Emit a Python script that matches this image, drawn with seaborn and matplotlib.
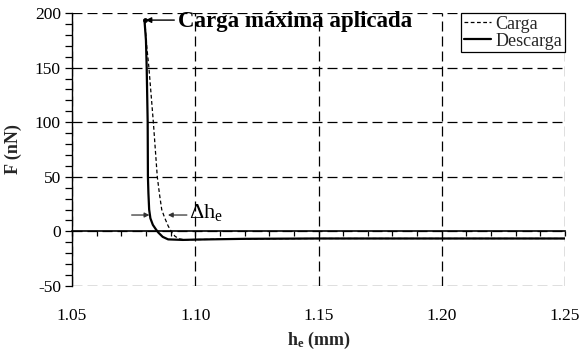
import numpy as np
import pandas as pd
import seaborn as sns
import matplotlib
matplotlib.use("Agg")
import matplotlib.pyplot as plt
from matplotlib.ticker import MultipleLocator, FixedLocator
from matplotlib.lines import Line2D

# Loading curve (Carga)
h_carga = [1.0795, 1.0803, 1.0812, 1.0821, 1.0830, 1.0838, 1.0846, 1.0855,
           1.0864, 1.0875, 1.0890, 1.0905, 1.0918, 1.0935, 1.0955, 1.1000,
           1.1200, 1.1500, 1.2000, 1.2500]
F_carga = [193.5, 170.0, 150.0, 125.0, 100.0, 75.0, 50.0, 34.0,
           20.0, 13.0, 5.0, -1.0, -4.5, -6.8, -7.6, -7.5,
           -6.8, -6.5, -6.5, -6.5]

# Unloading curve (Descarga)
h_descarga = [1.0794, 1.0800, 1.0803, 1.0807, 1.0808, 1.0810, 1.0813, 1.0818,
              1.0828, 1.0840, 1.0850, 1.0868, 1.0890, 1.0950, 1.1000, 1.1200,
              1.1500, 1.2000, 1.2500]
F_descarga = [193.5, 175.0, 150.0, 100.0, 50.0, 35.0, 20.0, 12.0,
              6.0, 2.0, -1.0, -5.0, -7.3, -7.8, -7.5, -6.8,
              -6.5, -6.5, -6.5]

# Maximum applied load
h_max, F_max = 1.0795, 193.5

x_ticks = [1.05, 1.10, 1.15, 1.20, 1.25]
y_ticks = [-50, 0, 50, 100, 150, 200]

sns.set_theme(style="white")
plt.rcParams["font.family"] = ["Liberation Serif", "DejaVu Serif"]
plt.rcParams["mathtext.fontset"] = "custom"
plt.rcParams["mathtext.rm"] = "Liberation Serif"
plt.rcParams["mathtext.bf"] = "Liberation Serif:bold"
plt.rcParams["mathtext.it"] = "Liberation Serif:italic"
plt.rcParams["axes.unicode_minus"] = False

df_c = pd.DataFrame({"h": h_carga, "F": F_carga})
df_d = pd.DataFrame({"h": h_descarga, "F": F_descarga})

fig = plt.figure(figsize=(5.82, 3.56), dpi=100)
ax = fig.add_axes([72 / 582, 1 - 286 / 356, (565 - 72) / 582, (286 - 13) / 356])

sns.lineplot(data=df_c, x="h", y="F", ax=ax, color="black", lw=0.9,
             linestyle=(0, (3, 2)), sort=False, estimator=None, zorder=3)
sns.lineplot(data=df_d, x="h", y="F", ax=ax, color="black", lw=1.6,
             sort=False, estimator=None, zorder=4)
ax.scatter([h_max], [F_max], s=6, color="black", zorder=5)

ax.set_xlim(1.05, 1.25)
ax.set_ylim(-50, 200)
ax.xaxis.set_major_locator(FixedLocator(x_ticks))
ax.yaxis.set_major_locator(FixedLocator(y_ticks))
ax.yaxis.set_minor_locator(MultipleLocator(10))
ax.set_xticklabels([f"{v:.2f}" for v in x_ticks])
ax.set_yticklabels([f"{v:d}" for v in y_ticks])

ax.grid(True, which="major", color="black", lw=0.9, linestyle=(0, (8, 4)))
for side in ["top", "right", "bottom"]:
    ax.spines[side].set_visible(False)
ax.spines["left"].set_color("black")
ax.spines["left"].set_linewidth(1.0)

ax.tick_params(axis="x", which="both", length=0, pad=16, labelsize=12.5,
               colors="black")
ax.tick_params(axis="y", which="both", direction="out", length=5, width=0.9,
               left=True, labelsize=12.5, colors="black", pad=3)

# Horizontal axis line through F = 0 with its tick marks
zero = ax.secondary_xaxis(0.2)
zero.xaxis.set_major_locator(MultipleLocator(0.01))
zero.tick_params(axis="x", direction="out", length=3.5, width=0.9,
                 labelbottom=False, colors="black")
zero.spines["bottom"].set_color("black")
zero.spines["bottom"].set_linewidth(1.2)

ax.set_xlabel(r"$\mathbf{h_e}$ (mm)", fontsize=13, fontweight="bold", labelpad=4)
ax.set_ylabel("F (nN)", fontsize=13, fontweight="bold", labelpad=9)

ax.annotate("", xy=(h_max + 0.0004, F_max), xytext=(1.0915, F_max),
            arrowprops=dict(arrowstyle="-|>", color="black", lw=1.0,
                            mutation_scale=8, shrinkA=0, shrinkB=0))
ax.text(1.0930, 192, "Carga máxima aplicada", fontsize=16.5,
        fontweight="bold", va="center", ha="left", color="black")

# Delta h_e marker arrows
ax.annotate("", xy=(1.0814, 15), xytext=(1.0742, 15),
            arrowprops=dict(arrowstyle="-|>", color="#333333", lw=0.9,
                            mutation_scale=7, shrinkA=0, shrinkB=0))
ax.annotate("", xy=(1.0889, 15), xytext=(1.0966, 15),
            arrowprops=dict(arrowstyle="-|>", color="#333333", lw=0.9,
                            mutation_scale=7, shrinkA=0, shrinkB=0))
ax.text(1.0975, 17, r"$\Delta\mathrm{h}_\mathrm{e}$", fontsize=16,
        va="center", ha="left", color="black")

handles = [Line2D([], [], color="black", lw=0.9, linestyle=(0, (3, 2))),
           Line2D([], [], color="black", lw=1.6)]
leg = ax.legend(handles, ["Carga", "Descarga"], loc="upper right",
                borderaxespad=0, fontsize=13, frameon=True, fancybox=False,
                handlelength=1.5, handletextpad=0.25, borderpad=0.15,
                labelspacing=0.0, edgecolor="black")
leg.get_frame().set_linewidth(0.9)
leg.get_frame().set_alpha(1)

fig.savefig("out.png", dpi=100)
